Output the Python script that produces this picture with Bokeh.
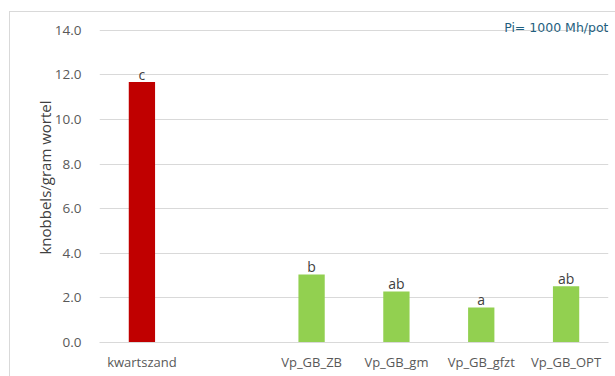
from bokeh.plotting import figure
from bokeh.models import FactorRange, FixedTicker, NumeralTickFormatter, Label, ColumnDataSource
from bokeh.core.properties import value
from bokeh.embed import file_html
from bokeh.resources import INLINE

# slots on the x axis (one empty slot between the control and the treatments)
factors = ["kwartszand", " ", "Vp_GB_ZB", "Vp_GB_gm", "Vp_GB_gfzt", "Vp_GB_OPT"]
treatments = ["kwartszand", "Vp_GB_ZB", "Vp_GB_gm", "Vp_GB_gfzt", "Vp_GB_OPT"]
knobbels = [11.68, 3.05, 2.29, 1.57, 2.52]
letters = ["c", "b", "ab", "a", "ab"]
colors = ["#C00000", "#92D050", "#92D050", "#92D050", "#92D050"]
y_ticks = [0, 2, 4, 6, 8, 10, 12, 14]

src = ColumnDataSource(dict(x=treatments, top=knobbels, lab=letters, color=colors))

p = figure(
    x_range=FactorRange(*factors, range_padding=0),
    y_range=(0, 14.8),
    width=606, height=365,
    output_backend="svg", toolbar_location=None,
    min_border_left=89, min_border_right=8, min_border_top=0, min_border_bottom=35,
    margin=(11, 0, 0, 9),
)
p.styles = {"border-top": "1px solid #d9d9d9", "border-left": "1px solid #d9d9d9"}
p.outline_line_color = None
p.background_fill_color = "white"

p.vbar(x="x", top="top", width=0.31, fill_color="color", line_color=None, source=src)
p.text(x="x", y="top", text="lab", source=src, text_align="center",
       text_baseline="bottom", y_offset=2,
       text_font=value("Open Sans"), text_font_size="14px", text_color="#404040")

p.add_layout(Label(x=6, y=14, text="Pi= 1000 Mh/pot", text_align="right",
                   text_baseline="alphabetic", x_offset=0, y_offset=3,
                   text_font="DejaVu Sans", text_font_size="12.5px", text_color="#1F5F7F"))

# grid
p.xgrid.grid_line_color = None
p.ygrid.ticker = FixedTicker(ticks=y_ticks)
p.ygrid.grid_line_color = "#d9d9d9"
p.ygrid.grid_line_width = 1

# y axis
p.yaxis.ticker = FixedTicker(ticks=y_ticks)
p.yaxis.formatter = NumeralTickFormatter(format="0.0")
p.yaxis.axis_line_color = None
p.yaxis.major_tick_line_color = None
p.yaxis.minor_tick_line_color = None
p.yaxis.major_label_standoff = 12
p.yaxis.major_label_text_font = "Open Sans"
p.yaxis.major_label_text_font_size = "13.5px"
p.yaxis.major_label_text_color = "#595959"
p.yaxis.axis_label = "knobbels/gram wortel"
p.yaxis.axis_label_text_font = "Open Sans"
p.yaxis.axis_label_text_font_size = "15px"
p.yaxis.axis_label_text_font_style = "normal"
p.yaxis.axis_label_text_color = "#404040"
p.yaxis.axis_label_standoff = -3

# x axis
p.xaxis.axis_line_color = "#d9d9d9"
p.xaxis.major_tick_line_color = None
p.xaxis.minor_tick_line_color = None
p.xaxis.major_label_standoff = 4
p.xaxis.major_label_text_font = "Open Sans"
p.xaxis.major_label_text_font_size = "13px"
p.xaxis.major_label_text_color = "#595959"

open("out.html", "w").write(file_html(p, INLINE))
